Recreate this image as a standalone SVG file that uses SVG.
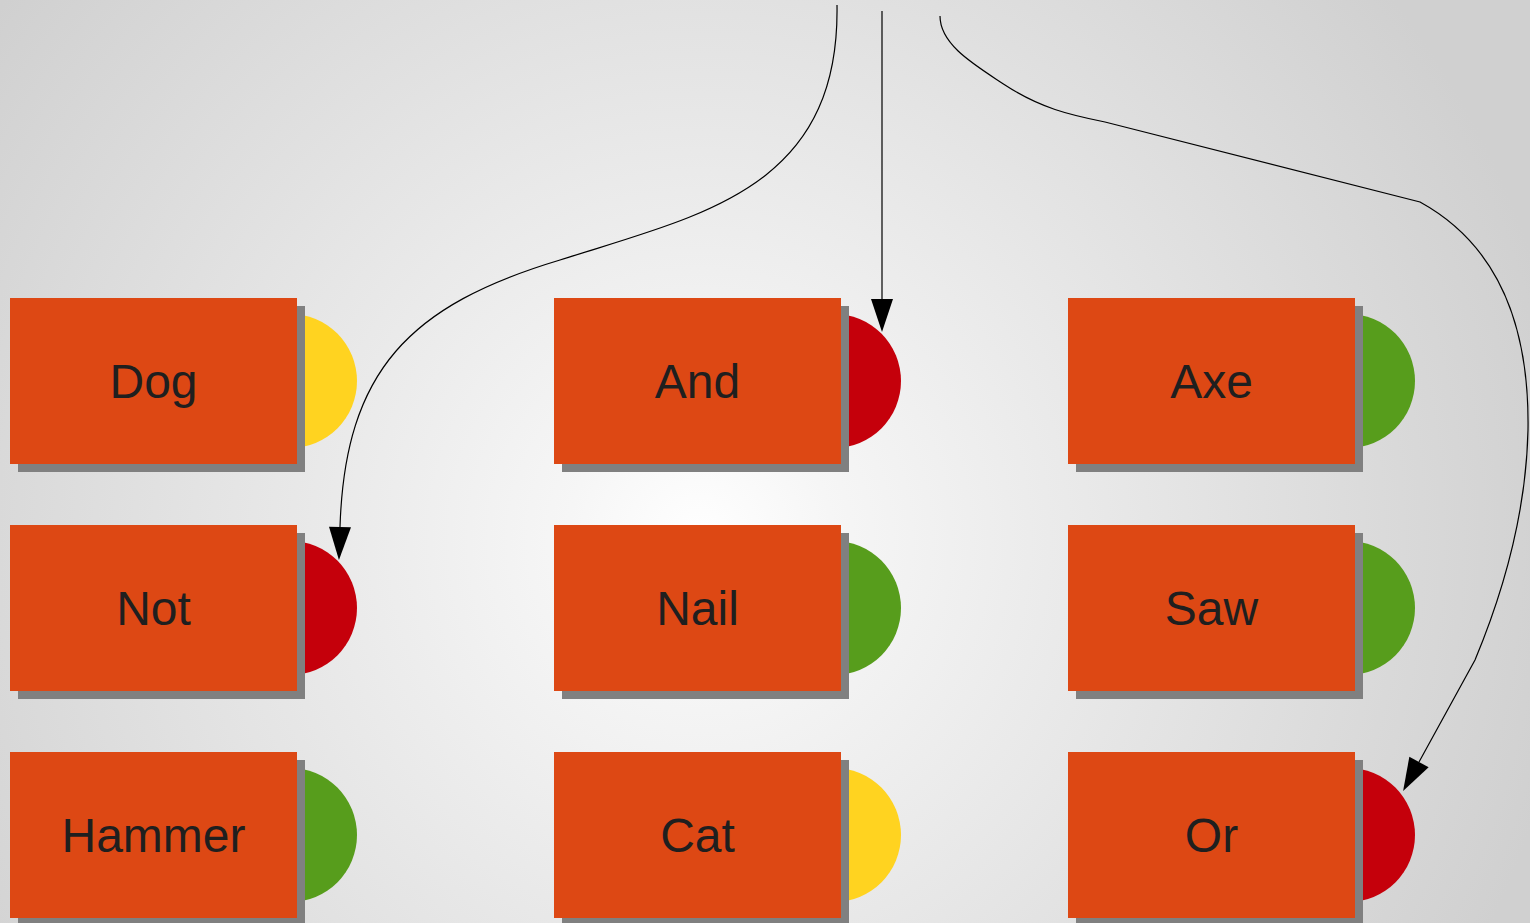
<svg xmlns="http://www.w3.org/2000/svg" width="1530" height="923" viewBox="0 0 1530 923">
  <defs>
    <radialGradient id="bg" gradientUnits="userSpaceOnUse" cx="700" cy="540" r="880">
      <stop offset="0" stop-color="#ffffff"/>
      <stop offset="0.15" stop-color="#f6f6f6"/>
      <stop offset="1" stop-color="#d0d0d0"/>
    </radialGradient>
    <marker id="arrow" markerUnits="userSpaceOnUse" markerWidth="40" markerHeight="30" refX="0" refY="0" viewBox="0 -15 40 30" orient="auto" overflow="visible">
      <path d="M0,-11 L33,0 L0,11 z" fill="#000"/>
    </marker>
  </defs>
  <style>
    .shadow { fill: #808080; }
    .box { fill: #dd4814; }
    .red { fill: #c5000b; }
    .green { fill: #579d1c; }
    .yellow { fill: #ffd320; }
    .label { font-family: "Liberation Sans", Arial, sans-serif; font-size: 48px; fill: #1f1f1f; text-anchor: middle; }
    .edge { fill: none; stroke: #000; stroke-width: 1.2; marker-end: url(#arrow); }
  </style>

  <rect width="1530" height="923" fill="url(#bg)"/>

  <!-- row 1 -->
  <g id="dog">
    <circle class="yellow" cx="290" cy="381" r="67"/>
    <rect class="shadow" x="18" y="306" width="287" height="166"/>
    <rect class="box" x="10" y="298" width="287" height="166"/>
    <text class="label" x="153.5" y="398">Dog</text>
  </g>
  <g id="and">
    <circle class="red" cx="834" cy="381" r="67"/>
    <rect class="shadow" x="562" y="306" width="287" height="166"/>
    <rect class="box" x="554" y="298" width="287" height="166"/>
    <text class="label" x="697.5" y="398">And</text>
  </g>
  <g id="axe">
    <circle class="green" cx="1348" cy="381" r="67"/>
    <rect class="shadow" x="1076" y="306" width="287" height="166"/>
    <rect class="box" x="1068" y="298" width="287" height="166"/>
    <text class="label" x="1211.5" y="398">Axe</text>
  </g>

  <!-- row 2 -->
  <g id="not">
    <circle class="red" cx="290" cy="608" r="67"/>
    <rect class="shadow" x="18" y="533" width="287" height="166"/>
    <rect class="box" x="10" y="525" width="287" height="166"/>
    <text class="label" x="153.5" y="625">Not</text>
  </g>
  <g id="nail">
    <circle class="green" cx="834" cy="608" r="67"/>
    <rect class="shadow" x="562" y="533" width="287" height="166"/>
    <rect class="box" x="554" y="525" width="287" height="166"/>
    <text class="label" x="697.5" y="625">Nail</text>
  </g>
  <g id="saw">
    <circle class="green" cx="1348" cy="608" r="67"/>
    <rect class="shadow" x="1076" y="533" width="287" height="166"/>
    <rect class="box" x="1068" y="525" width="287" height="166"/>
    <text class="label" x="1211.5" y="625">Saw</text>
  </g>

  <!-- row 3 -->
  <g id="hammer">
    <circle class="green" cx="290" cy="835" r="67"/>
    <rect class="shadow" x="18" y="760" width="287" height="166"/>
    <rect class="box" x="10" y="752" width="287" height="166"/>
    <text class="label" x="153.5" y="852">Hammer</text>
  </g>
  <g id="cat">
    <circle class="yellow" cx="834" cy="835" r="67"/>
    <rect class="shadow" x="562" y="760" width="287" height="166"/>
    <rect class="box" x="554" y="752" width="287" height="166"/>
    <text class="label" x="697.5" y="852">Cat</text>
  </g>
  <g id="or">
    <circle class="red" cx="1348" cy="835" r="67"/>
    <rect class="shadow" x="1076" y="760" width="287" height="166"/>
    <rect class="box" x="1068" y="752" width="287" height="166"/>
    <text class="label" x="1211.5" y="852">Or</text>
  </g>

  <!-- connectors -->
  <g id="connectors">
    <path class="edge" d="M837,5 C840,190 700,215 560,260 C410,305 345,370 340,527"/>
    <path class="edge" d="M882,11 L882,299"/>
    <path class="edge" d="M940,16 C940,45 975,65 1005,85 C1040,108 1070,115 1105,122 L1420,202 C1480,235 1530,300 1528,430 C1526,520 1500,600 1475,660 L1419,762"/>
  </g>
</svg>
